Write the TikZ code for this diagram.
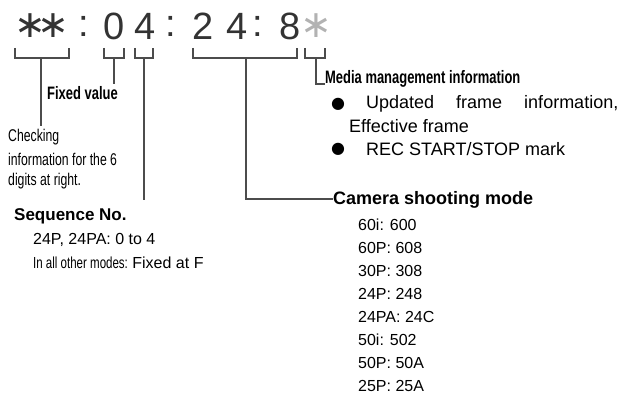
\documentclass[tikz,border=0pt]{standalone}
\usepackage{fontspec}
\usepackage{graphicx}
\setmainfont{Liberation Sans}
\newfontfamily\symfont{DejaVu Sans}
\usetikzlibrary{positioning}
\tikzset{
	digit/.style={font=\fontsize{38}{38}\selectfont, inner sep=0pt},
	bracket/.style={line width=1.6pt, gray!60!black},
	head/.style={anchor=west, inner sep=0pt, font=\fontsize{18}{18}\selectfont\bfseries},
	item/.style={anchor=west, inner sep=0pt, font=\fontsize{16}{16}\selectfont},
	narrow/.style={anchor=west, inner sep=0pt, font=\fontsize{17}{17}\selectfont}
}
\newcommand{\squeeze}[1]{\scalebox{0.72}[1]{#1}}
\begin{document}
\begin{tikzpicture}[x=1pt, y=-1pt]
		\useasboundingbox (0,0) rectangle (643,417);

		% Time code digits
		\foreach \ch/\px [count=\i] in {{\symfont ∗}/30, {\symfont ∗}/53, :/84, 0/114, 4/145, :/171, 2/203, 4/237, :/258, 8/290}
			\node[digit, gray!40!black] (c\i) at (\px,26) {\ch};
		\node[digit, gray!60] (c11) at (316,26) {\symfont ∗};

		% Brackets
		\draw[bracket] (15,48) -- (15,58) -- (69,58) -- (69,48);
		\draw[bracket] (104,48) -- (104,58) -- (124,58) -- (124,48);
		\draw[bracket] (135,48) -- (135,58) -- (153,58) -- (153,48);
		\draw[bracket] (193,48) -- (193,58) -- (297,58) -- (297,48);
		\draw[bracket] (305,48) -- (305,58) -- (325,58) -- (325,48);

		% Labels
		\node[head] (fixed) at (47,93) {\squeeze{Fixed value}};
		\node[narrow] (chk1) at (8,137) {\squeeze{Checking}};
		\node[narrow] (chk2) at (8,159) {\squeeze{information for the 6}};
		\node[narrow] (chk3) at (8,181) {\squeeze{digits at right.}};
		\node[head, font=\fontsize{17}{17}\selectfont\bfseries] (seq) at (14,216) {Sequence No.};
		\node[item] (seq1) at (33,240) {24P, 24PA: 0 to 4};
		\node[item] (seq2) at (33,263) {\squeeze{In all other modes:} Fixed at F};

		\node[head] (media) at (325,79) {\squeeze{Media management information}};
		\node[item, font=\fontsize{16}{16}\selectfont\symfont] (b1) at (331,104) {●};
		\node[item, font=\fontsize{18}{18}\selectfont] (upd) at (366,104) {Updated\hspace{22pt}frame\hspace{22pt}information,};
		\node[item, font=\fontsize{18}{18}\selectfont] (eff) at (349,126) {Effective frame};
		\node[item, font=\fontsize{16}{16}\selectfont\symfont] (b2) at (331,149) {●};
		\node[item, font=\fontsize{18}{18}\selectfont] (rec) at (366,149) {REC START/STOP mark};

		\node[head] (cam) at (333,200) {Camera shooting mode};
		\foreach \txt [count=\i] in {60i: 600, 60P: 608, 30P: 308, 24P: 248, 24PA: 24C, 50i: 502, 50P: 50A, 25P: 25A}
			\node[item] (m\i) at (358,202+23*\i) {\txt};

		% Stems
		\draw[bracket] (41,58) -- (41,126);
		\draw[bracket] (114,58) -- (114,84);
		\draw[bracket] (144,58) -- (144,200);
		\draw[bracket] (246,58) -- (246,199) -- (cam.west |- 0,199);
		\draw[bracket] (316,58) -- (316,84) -- (media.west |- 0,84);
	\end{tikzpicture}
\end{document}
